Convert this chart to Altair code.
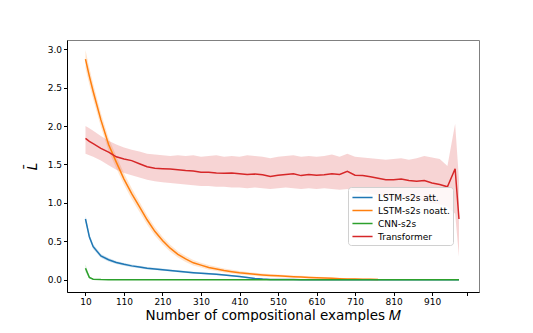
import altair as alt
import pandas as pd

SERIES = ["LSTM-s2s att.", "LSTM-s2s noatt.", "CNN-s2s", "Transformer"]
COLORS = ["#1f77b4", "#ff7f0e", "#2ca02c", "#d62728"]

M = [10, 20, 30, 50, 70, 90, 110, 130, 150, 170,
     190, 210, 230, 250, 270, 290, 310, 330, 350, 370,
     390, 410, 430, 450, 470, 490, 510, 530, 550, 570,
     590, 610, 630, 650, 670, 690, 710, 730, 750, 770,
     790, 810, 830, 850, 870, 890, 910, 930, 950, 970,
     980]

lstm_att = [0.79, 0.56, 0.43, 0.31, 0.26, 0.225, 0.20, 0.18, 0.165, 0.15,
            0.14, 0.13, 0.12, 0.11, 0.10, 0.092, 0.085, 0.078, 0.07, 0.062,
            0.052, 0.042, 0.028, 0.015, 0.008, 0.004, 0.003, 0.002, 0.002, 0.001,
            0.001, 0.001, 0.001, 0.001, 0.001, 0.001, 0.001, 0.001, 0.001, 0.001,
            0.001, 0.001, 0.001, 0.001, 0.001, 0.001, 0.001, 0.001, 0.001, 0.001,
            0.001]
lstm_att_hw = [0.04, 0.035, 0.03, 0.025, 0.022, 0.02, 0.019, 0.018, 0.017, 0.016,
               0.015, 0.015, 0.014, 0.014, 0.013, 0.013, 0.012, 0.012, 0.011, 0.011,
               0.01, 0.01, 0.009, 0.008, 0.007, 0.006, 0.005, 0.004, 0.003, 0.003,
               0.002, 0.002, 0.002, 0.002, 0.002, 0.002, 0.002, 0.002, 0.002, 0.002,
               0.002, 0.002, 0.002, 0.002, 0.002, 0.002, 0.002, 0.002, 0.002, 0.002,
               0.002]

lstm_noatt = [2.87, 2.65, 2.45, 2.08, 1.76, 1.53, 1.31, 1.12, 0.95, 0.78,
              0.63, 0.51, 0.41, 0.33, 0.27, 0.22, 0.19, 0.16, 0.14, 0.12,
              0.105, 0.09, 0.08, 0.07, 0.062, 0.055, 0.05, 0.045, 0.04, 0.035,
              0.03, 0.026, 0.022, 0.018, 0.014, 0.01, 0.008, 0.006, 0.005, 0.004]
lstm_noatt_hw = [0.12, 0.11, 0.10, 0.09, 0.085, 0.08, 0.075, 0.07, 0.065, 0.06,
                 0.055, 0.05, 0.045, 0.042, 0.04, 0.035, 0.032, 0.03, 0.028, 0.026,
                 0.024, 0.022, 0.02, 0.02, 0.02, 0.018, 0.018, 0.016, 0.016, 0.015,
                 0.015, 0.014, 0.013, 0.012, 0.012, 0.01, 0.01, 0.01, 0.01, 0.01]

cnn = [0.15, 0.03, 0.006, 0.002, 0.001, 0.001, 0.001, 0.001, 0.001, 0.001,
       0.001, 0.001, 0.001, 0.001, 0.001, 0.001, 0.001, 0.001, 0.001, 0.001,
       0.001, 0.001, 0.001, 0.001, 0.001, 0.001, 0.001, 0.001, 0.001, 0.001,
       0.001, 0.001, 0.001, 0.001, 0.001, 0.001, 0.001, 0.001, 0.001, 0.001,
       0.001, 0.001, 0.001, 0.001, 0.001, 0.001, 0.001, 0.001, 0.001, 0.001,
       0.001]
cnn_hw = [0.05, 0.015, 0.004, 0.002, 0.002, 0.002, 0.002, 0.002, 0.002, 0.002,
          0.002, 0.002, 0.002, 0.002, 0.002, 0.002, 0.002, 0.002, 0.002, 0.002,
          0.002, 0.002, 0.002, 0.002, 0.002, 0.002, 0.002, 0.002, 0.002, 0.002,
          0.002, 0.002, 0.002, 0.002, 0.002, 0.002, 0.002, 0.002, 0.002, 0.002,
          0.002, 0.002, 0.002, 0.002, 0.002, 0.002, 0.002, 0.002, 0.002, 0.002,
          0.002]

transformer = [1.84, 1.80, 1.77, 1.71, 1.66, 1.60, 1.57, 1.55, 1.51, 1.47,
               1.45, 1.445, 1.44, 1.43, 1.42, 1.415, 1.40, 1.40, 1.39, 1.385,
               1.39, 1.38, 1.37, 1.375, 1.365, 1.345, 1.36, 1.37, 1.38, 1.355,
               1.37, 1.36, 1.365, 1.38, 1.37, 1.41, 1.36, 1.355, 1.34, 1.32,
               1.30, 1.30, 1.31, 1.29, 1.28, 1.29, 1.26, 1.24, 1.21, 1.445,
               0.79]
transformer_hi = [2.00, 1.97, 1.94, 1.87, 1.81, 1.76, 1.72, 1.69, 1.67, 1.64,
                  1.63, 1.62, 1.61, 1.62, 1.61, 1.62, 1.60, 1.61, 1.62, 1.60,
                  1.61, 1.60, 1.62, 1.61, 1.60, 1.58, 1.60, 1.61, 1.62, 1.60,
                  1.61, 1.60, 1.61, 1.63, 1.60, 1.64, 1.60, 1.59, 1.58, 1.57,
                  1.56, 1.57, 1.58, 1.56, 1.58, 1.61, 1.59, 1.57, 1.48, 2.03,
                  1.30]
transformer_lo = [1.64, 1.62, 1.60, 1.55, 1.49, 1.43, 1.39, 1.36, 1.33, 1.30,
                  1.28, 1.27, 1.26, 1.25, 1.24, 1.23, 1.22, 1.22, 1.21, 1.21,
                  1.20, 1.20, 1.19, 1.20, 1.19, 1.18, 1.19, 1.20, 1.19, 1.18,
                  1.19, 1.18, 1.19, 1.18, 1.17, 1.18, 1.15, 1.13, 1.12, 1.10,
                  1.08, 1.07, 1.06, 1.05, 1.03, 1.02, 1.00, 0.98, 0.95, 0.86,
                  0.30]

X_TICKS = [10, 110, 210, 310, 410, 510, 610, 710, 810, 910, 1000]
Y_TICKS = [0.0, 0.5, 1.0, 1.5, 2.0, 2.5, 3.0]

rows = []
def add(name, vals, lo, hi):
    for i, v in enumerate(vals):
        rows.append({"series": name, "M": M[i], "value": v, "lo": lo[i], "hi": hi[i]})

add(SERIES[0], lstm_att, [v - h for v, h in zip(lstm_att, lstm_att_hw)],
    [v + h for v, h in zip(lstm_att, lstm_att_hw)])
add(SERIES[1], lstm_noatt, [v - h for v, h in zip(lstm_noatt, lstm_noatt_hw)],
    [v + h for v, h in zip(lstm_noatt, lstm_noatt_hw)])
add(SERIES[2], cnn, [v - h for v, h in zip(cnn, cnn_hw)],
    [v + h for v, h in zip(cnn, cnn_hw)])
add(SERIES[3], transformer, transformer_lo, transformer_hi)

df = pd.DataFrame(rows)

FONT = "DejaVu Sans"

xscale = alt.Scale(domain=[-38, 1032], nice=False, zero=False)
yscale = alt.Scale(domain=[-0.16, 3.12], nice=False, zero=False)

x_axis = alt.Axis(values=X_TICKS, labelExpr="datum.value == 1000 ? '' : datum.label",
                  title="Number of compositional examples 𝑀", grid=False,
                  titlePadding=2)
y_axis = alt.Axis(values=Y_TICKS, format=".1f", title="L̄", grid=False,
                  titleFontStyle="italic", titlePadding=8)

color_scale = alt.Scale(domain=SERIES, range=COLORS)

legend = alt.Legend(title=None, orient="none", legendX=281, legendY=147,
                    symbolType="M-1.5,0L1.5,0", symbolSize=180, symbolOpacity=1,
                    symbolStrokeWidth=1.5, symbolOffset=4, labelFontSize=9,
                    labelOffset=8, labelFont=FONT, labelColor="black",
                    fillColor="rgba(255,255,255,0.8)",
                    strokeColor="#d0d0d0", cornerRadius=3,
                    padding=3, rowPadding=0)

base = alt.Chart(df)

bands = base.mark_area(opacity=0.2).encode(
    x=alt.X("M:Q", scale=xscale, axis=x_axis),
    y=alt.Y("lo:Q", scale=yscale, axis=y_axis),
    y2="hi:Q",
    color=alt.Color("series:N", scale=color_scale, sort=SERIES, legend=legend),
    detail="series:N",
)

lines = base.mark_line(strokeWidth=1.5).encode(
    x=alt.X("M:Q", scale=xscale),
    y=alt.Y("value:Q", scale=yscale),
    color=alt.Color("series:N", scale=color_scale, sort=SERIES, legend=legend),
)

chart = alt.layer(bands, lines).properties(
    width=412, height=252,
    autosize=alt.AutoSizeParams(type="none"),
    padding={"left": 59, "top": 32, "right": 40, "bottom": 30},
).configure_view(
    stroke="#808080", strokeWidth=1
).configure_axis(
    labelFont=FONT, labelFontSize=9, labelColor="black",
    titleFont=FONT, titleFontSize=13.5, titleFontWeight="normal", titleColor="black",
    domainColor="black", tickColor="black", tickSize=3.5, labelPadding=2,
)

chart.save("out.html", embed_options={"renderer": "svg", "actions": False})
